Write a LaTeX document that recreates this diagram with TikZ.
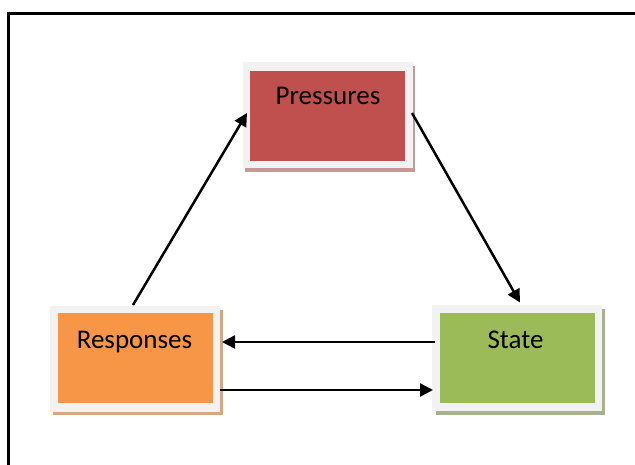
\documentclass[tikz,border=0pt]{standalone}
\usepackage{fontspec}
\setmainfont{Carlito}
\usetikzlibrary{arrows.meta,calc}
\definecolor{pred}{HTML}{C0504D}
\definecolor{porange}{HTML}{F79646}
\definecolor{pgreen}{HTML}{9BBB59}
\definecolor{frameg}{HTML}{F2F2F2}
\definecolor{pshadow}{HTML}{C49A99}
\definecolor{rshadow}{HTML}{D5A883}
\definecolor{sshadow}{HTML}{A8B18F}
\tikzset{
  outerbox/.style={fill=frameg, draw=none, minimum width=170pt, minimum height=106pt, inner sep=0pt, outer sep=0pt},
  innerbox/.style={draw=none, minimum width=155pt, minimum height=90pt, inner sep=0pt, outer sep=0pt},
  lbl/.style={anchor=base, inner sep=0pt, font=\fontsize{27}{32}\selectfont},
  conn/.style={line width=2.5pt, -{Triangle[length=13pt,width=13pt]}}
}
\begin{document}
\begin{tikzpicture}[x=1pt,y=-1pt]
\useasboundingbox (0,0) rectangle (635,464);
\begin{scope}
\clip (0,0) rectangle (635,464);
\draw[line width=2.2pt] (8.5,13.5) rectangle (660,490);
\end{scope}
% shadows
\fill[pshadow] (245,66) rectangle (415,172);
\fill[rshadow] (53,310) rectangle (223,415);
\fill[sshadow] (436,309) rectangle (605,415);
% boxes
\node[outerbox] (P) at (328,115) {};
\node[innerbox, fill=pred] (Pin) at (327.5,115.5) {};
\node[outerbox] (R) at (135,359) {};
\node[innerbox, fill=porange] (Rin) at (135,357.5) {};
\node[outerbox] (S) at (517,357.5) {};
\node[innerbox, fill=pgreen] (Sin) at (517,357.5) {};
% labels
\node[lbl] (Pt) at (328,104) {Pressures};
\node[lbl] (Rt) at (134.5,348) {Responses};
\node[lbl] (St) at (515.5,348) {State};
% connectors
\draw[conn] ($(R.north west)+(83,-1)$) -- ($(P.west)+(4,-2)$);
\draw[conn] ($(P.east)+(-1,-2)$) -- ($(S.north west)+(88,-2)$);
\draw[conn] ($(S.west)+(3,-15.5)$) -- ($(R.east)+(2,-17)$);
\draw[conn] ($(R.east)+(0,31)$) -- ($(S.west)+(1,32.5)$);
\end{tikzpicture}
\end{document}
